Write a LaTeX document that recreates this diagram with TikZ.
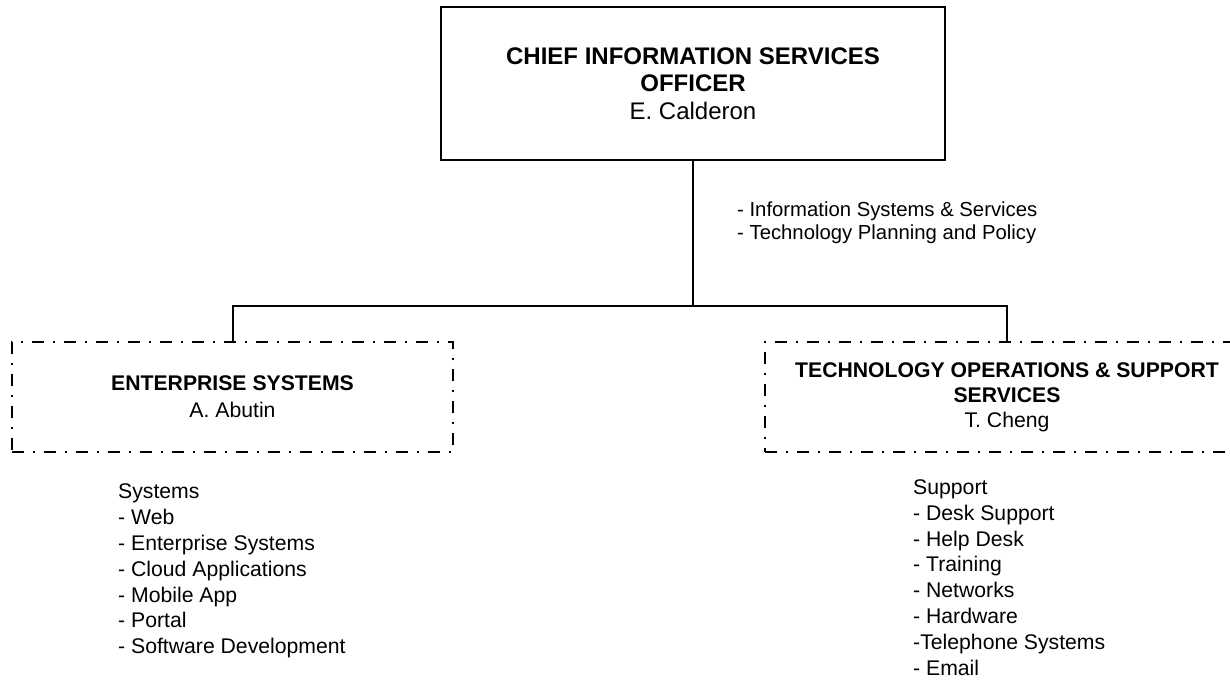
\documentclass[tikz,border=0pt]{standalone}
\usepackage{fontspec}
\setmainfont{Liberation Sans}
\begin{document}
\begin{tikzpicture}[x=1pt,y=-1pt,
  chief/.style={draw, line width=2pt, minimum width=504pt, minimum height=153pt, align=center, inner sep=0pt, font=\fontsize{24}{27.5}\selectfont},
  unitbox/.style={draw, line width=1.4pt, dash pattern=on 12pt off 9pt on 2pt off 9pt, align=center, inner sep=0pt, minimum height=110pt},
  note/.style={anchor=west, align=left, inner sep=0pt, font=\fontsize{20.3}{23}\selectfont},
  lst/.style={anchor=west, align=left, inner sep=0pt, font=\fontsize{21.2}{25.8}\selectfont},
  link/.style={line width=2pt}]
\clip (0,0) rectangle (1230,680);
\fill[white] (0,0) rectangle (1230,680);

\node[chief] (ceo) at (693,83.5) {\textbf{CHIEF INFORMATION SERVICES}\\\textbf{OFFICER}\\E. Calderon};

\node[unitbox, minimum width=441pt, font=\fontsize{21.2}{27}\selectfont] (es) at (232.5,397) {\textbf{ENTERPRISE SYSTEMS}\\A. Abutin};

\node[unitbox, minimum width=484pt, font=\fontsize{21.2}{25}\selectfont] (tos) at (1007,397) {\textbf{TECHNOLOGY OPERATIONS \& SUPPORT}\\\textbf{SERVICES}\\T. Cheng};

\coordinate (bus) at (693,306);
\draw[link] (ceo.south) -- (bus);
\draw[link] (bus) -| (es.north);
\draw[link] (bus) -| (tos.north);

\node[note] (ann) at (737,223) {- Information Systems \& Services\\- Technology Planning and Policy};

\node[lst] (eslist) at (118,571) {Systems\\- Web\\- Enterprise Systems\\- Cloud Applications\\- Mobile App\\- Portal\\- Software Development};

\node[lst] (toslist) at (913,577.5) {Support\\- Desk Support\\- Help Desk\\- Training\\- Networks\\- Hardware\\-Telephone Systems\\- Email};
\end{tikzpicture}
\end{document}
